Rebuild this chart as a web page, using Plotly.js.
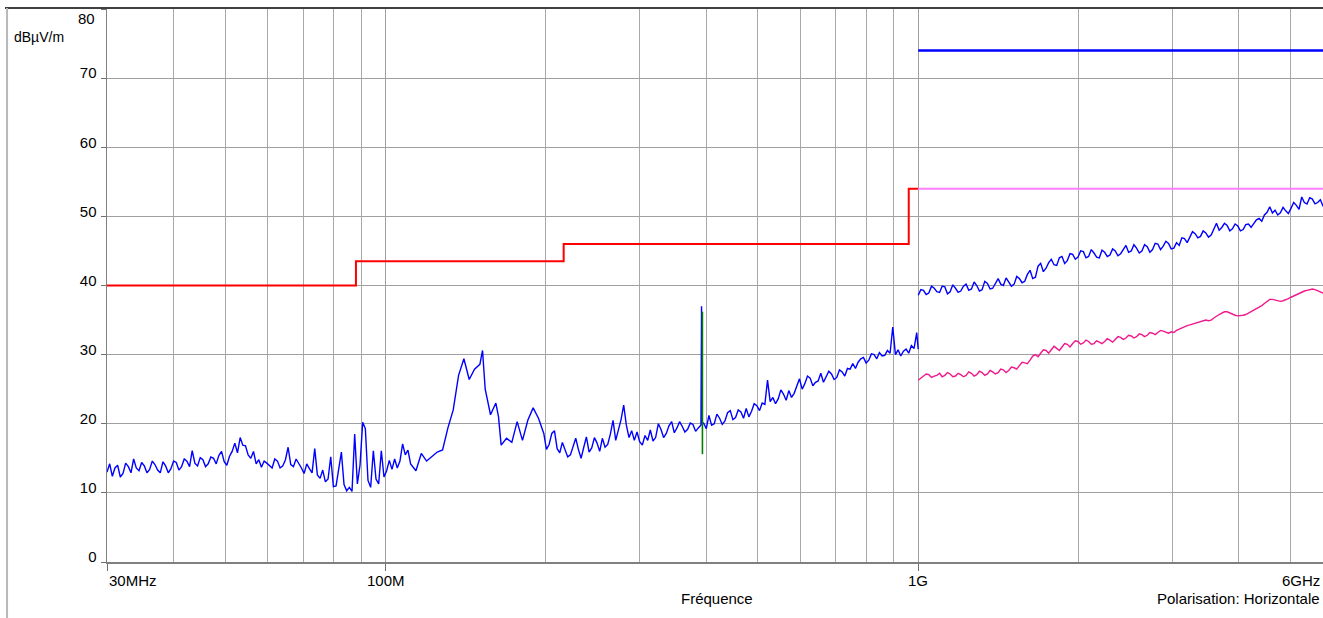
<!DOCTYPE html>
<html>
<head>
<meta charset="utf-8">
<script src="https://cdn.plot.ly/plotly-3.0.1.min.js"></script>
<style>html,body{margin:0;padding:0;background:#fff;}#chart{width:1323px;height:618px;}</style>
</head>
<body>
<div id="chart"></div>
<script>
// ---- Data (frequency in MHz, level in dBµV/m) ----
const limitQpFreq = [30, 88, 88, 216, 216, 960, 960, 1000];
const limitQpLevel = [40, 40, 43.5, 43.5, 46, 46, 54, 54];
const limitAvgFreq = [1000, 6000];
const limitAvgLevel = [54, 54];
const limitPkFreq = [1000, 6000];
const limitPkLevel = [74, 74];

// 30 MHz - 1 GHz scan (main readings)
const scanLowFreq = [30.00,30.70,31.41,32.15,32.90,33.66,34.45,35.25,36.07,36.91,37.77,38.65,39.55,40.47,41.41,42.38,43.36,44.37,45.41,46.46,47.55,48.65,49.79,50.95,52.13,53.35,54.59,55.86,57.17,58.49,59.86,61.25,62.68,64.14,65.63,67.16,68.73,70.33,71.96,73.64,75.36,77.11,78.91,80.75,82.63,84.55,85.53,86.52,87.52,88.54,89.56,90.60,91.65,92.71,93.78,94.87,95.97,97.08,98.20,99.34,100.49,101.65,102.83,104.02,105.22,106.44,107.67,108.92,110.18,111.46,114.06,116.72,119.43,122.21,125.06,127.97,130.96,134.00,137.13,140.32,143.59,146.93,150.36,152.10,153.86,157.44,161.11,162.98,164.86,168.70,172.63,176.65,180.77,184.98,189.29,193.70,198.21,202.82,207.55,212.39,217.33,222.39,227.57,232.88,238.30,243.85,249.53,255.34,261.29,267.38,273.60,279.98,286.50,293.17,300.0,307.0,314.1,321.4,328.9,336.6,344.5,352.5,360.7,369.1,377.7,386.5,391.0,392.0,393.0,395.5,404.7,414.1,423.8,433.7,443.8,454.1,464.7,475.5,486.6,497.9,509.5,515.4,521.4,527.4,533.5,546.0,558.6,571.7,585.0,598.6,612.6,626.9,641.5,656.4,671.7,687.4,703.4,719.8,736.6,753.7,771.3,789.3,807.7,826.5,845.7,865.4,885.6,895.9,906.3,927.4,949.0,971.1,982.4,993.7,1000];
const scanLowLevel = [13.0,12.4,14.0,12.8,13.8,14.9,13.2,13.9,13.4,14.1,12.9,13.9,13.5,14.4,13.8,14.6,16.1,13.9,14.8,14.2,15.0,15.4,14.5,15.3,17.2,18.0,16.8,15.0,14.2,13.7,14.3,13.6,14.6,13.9,16.6,13.8,14.3,12.8,13.5,16.4,12.1,11.6,15.2,11.0,15.9,10.3,10.8,10.2,18.5,11.3,14.0,20.2,19.3,11.8,10.8,16.1,12.0,11.3,16.1,12.3,13.2,14.7,13.4,14.9,13.6,14.6,17.1,15.5,16.2,14.2,13.2,15.7,14.6,15.2,15.9,16.2,19.4,22.0,27.0,29.4,26.4,27.9,28.6,30.6,25.0,21.3,23.0,21.0,16.9,17.9,17.3,20.3,17.6,20.5,22.3,20.8,18.6,17.0,19.0,15.8,16.2,15.5,17.9,15.0,18.1,16.5,17.2,17.9,17.0,20.5,19.2,22.7,18.0,17.6,17.4,18.3,19.1,18.0,19.2,18.6,20.3,19.4,19.6,19.2,19.9,19.4,19.8,37.0,20.0,20.1,21.2,20.0,20.8,20.4,21.9,20.9,21.7,22.2,21.8,22.6,23.0,22.8,26.3,23.2,23.8,23.6,24.3,24.8,24.4,26.5,25.8,26.6,26.0,27.3,26.8,27.2,26.7,27.5,28.0,28.7,28.9,29.6,29.2,30.0,30.3,29.9,30.2,34.0,30.0,29.8,30.8,31.3,30.9,33.2,30.8];
// 30 MHz - 1 GHz scan (in-between readings of the noise)
const scanLowFreqMid = [30.35,31.05,31.78,32.52,33.28,34.05,34.85,35.66,36.49,37.34,38.21,39.10,40.01,40.94,41.89,42.87,43.86,44.89,45.93,47.00,48.10,49.22,50.36,51.53,52.73,53.96,55.22,56.51,57.82,59.17,60.55,61.96,63.40,64.88,66.39,67.94,69.52,71.14,72.80,74.49,76.23,78.00,79.82,81.68,83.58,200.5,205.2,210.0,214.8,219.8,225.0,230.2,235.6,241.1,246.7,252.4,258.3,264.3,270.5,276.8,283.2,289.8,296.6,303.5,310.6,317.8,325.2,332.7,340.5,348.4,356.5,364.8,373.4,382.1,400.1,409.4,418.9,428.7,438.7,448.9,459.4,470.0,481.0,492.2,503.7,539.7,552.3,565.1,578.3,591.8,605.6,619.7,634.1,648.9,664.0,679.5,695.3,711.6,728.1,745.1,762.5,780.2,798.4,817.0,836.1,855.5,875.5,916.8,938.2,960.0];
const scanLowLevelMid = [14.2,13.6,12.3,14.3,12.9,13.6,14.4,12.9,14.6,13.3,14.5,12.9,14.6,13.3,14.9,13.8,14.3,15.1,13.8,15.2,14.2,16.0,14.0,16.0,15.8,16.9,15.5,16.0,14.8,14.6,13.9,14.9,13.6,14.8,14.1,14.9,13.6,14.2,12.9,12.6,13.3,12.0,10.9,13.8,11.2,16.3,18.6,16.4,17.3,15.2,16.8,16.3,16.6,15.9,18.0,16.0,16.6,18.5,17.6,20.6,19.8,19.0,18.8,16.9,17.6,17.5,20.0,18.0,19.7,18.7,20.3,18.8,20.1,18.9,19.3,19.8,21.4,19.9,21.6,20.6,22.0,20.8,21.0,22.9,21.9,22.9,24.9,23.4,23.8,25.4,25.0,26.9,25.5,26.2,26.0,27.6,26.4,27.8,26.9,27.9,28.0,29.4,28.8,30.1,29.4,29.8,30.6,30.7,30.5,30.2];

// 1 GHz - 6 GHz scan (main readings)
const scanHighFreq = [1000,1023,1047,1072,1097,1122,1148,1175,1202,1230,1259,1288,1318,1349,1380,1413,1445,1479,1514,1549,1585,1622,1660,1698,1738,1778,1820,1862,1905,1950,1995,2042,2089,2138,2188,2239,2291,2344,2399,2455,2512,2570,2630,2692,2754,2818,2884,2951,3020,3090,3162,3236,3311,3388,3467,3548,3631,3715,3802,3890,3981,4074,4169,4266,4365,4467,4571,4677,4786,4898,5012,5129,5248,5370,5495,5623,5754,5900,6000];
const peakLevel = [38.6,39.3,38.9,39.6,39.0,39.8,39.1,39.6,39.2,40.2,39.5,40.0,39.4,40.3,39.6,41.0,40.0,40.5,40.2,41.0,40.6,42.2,41.2,43.2,42.5,43.8,42.9,44.2,43.6,44.5,44.1,44.9,44.2,44.7,44.0,44.8,44.4,45.0,44.6,45.8,45.0,45.4,45.0,45.6,45.2,46.0,45.7,46.1,45.4,45.8,46.8,47.0,47.5,47.1,47.6,47.3,49.0,48.4,48.7,48.2,48.6,48.1,48.9,49.0,49.7,50.2,51.4,50.9,50.5,50.8,51.2,51.6,52.8,51.8,52.5,52.0,51.5,51.6,51.8];
const averageLevel = [26.3,26.8,27.1,26.9,27.3,27.0,27.2,26.9,27.1,27.0,27.3,27.1,27.4,27.2,27.5,27.4,27.8,27.7,28.1,28.4,28.8,29.2,30.0,30.2,30.6,30.7,30.9,31.1,31.5,31.6,31.9,31.7,31.9,31.6,31.8,31.9,32.1,32.2,32.5,32.4,32.7,32.6,32.9,32.8,33.1,33.2,33.4,33.1,33.2,33.7,34.0,34.3,34.6,34.8,35.0,35.0,35.6,36.0,36.2,35.8,35.6,35.7,36.0,36.4,36.8,37.4,38.0,37.9,37.7,37.9,38.3,38.7,39.1,39.3,39.5,39.2,38.9,39.0,39.2];
// 1 GHz - 6 GHz scan (in-between readings)
const scanHighFreqMid = [1011.6,1035.1,1059.3,1083.9,1109.2,1135.0,1161.4,1188.5,1216.2,1244.5,1273.5,1303.2,1333.5,1364.6,1396.4,1428.9,1462.2,1496.2,1531.1,1566.8,1603.2,1640.6,1678.8,1717.9,1757.9,1798.9,1840.8,1883.6,1927.5,1972.4,2018.4,2065.4,2113.5,2162.7,2213.1,2264.6,2317.4,2371.4,2426.6,2483.1,2541.0,2600.2,2660.7,2722.7,2786.1,2851.0,2917.4,2985.4,3054.9,3126.1,3198.9,3273.4,3349.7,3427.7,3507.5,3589.2,3672.8,3758.4,3845.9,3935.5,4027.2,4121.0,4217.0,4315.2,4415.7,4518.6,4623.8,4731.5,4841.7,4954.5,5069.9,5188.0,5308.8,5432.5,5559.0,5688.5];
const peakLevelMid = [39.4,38.7,39.9,39.1,39.9,38.8,40.1,39.0,39.9,39.3,40.5,39.2,40.6,39.5,40.4,40.2,41.1,39.9,41.3,40.4,41.6,41.0,42.8,42.0,43.3,43.0,44.0,43.2,44.6,43.8,45.0,44.0,45.2,44.1,45.1,44.2,45.3,44.3,45.2,44.8,45.9,44.7,45.9,44.8,46.1,45.2,46.4,45.3,46.2,46.9,46.2,47.8,46.9,47.9,47.0,48.2,48.0,49.0,47.9,48.9,47.9,48.8,48.4,49.5,49.3,50.6,50.5,50.2,51.3,50.4,52.0,51.0,52.0,52.7,51.8,52.4];
const averageLevelMid = [26.6,27.2,26.7,27.0,26.8,27.4,26.8,27.3,26.8,27.5,26.9,27.6,27.0,27.7,27.2,27.9,27.4,28.2,27.9,28.9,28.7,29.8,29.7,30.7,30.2,31.2,30.6,31.6,31.1,32.0,31.5,32.1,31.5,32.0,31.6,32.3,31.8,32.6,32.2,32.8,32.4,33.0,32.6,33.2,32.9,33.5,33.2,33.3,33.5,33.8,34.2,34.4,34.7,34.9,34.9,35.3,35.8,36.2,36.0,35.7,35.6,35.8,36.2,36.6,37.1,37.7,38.0,37.8,37.8,38.1,38.5,38.9,39.2,39.4,39.4,39.0];

const qpMarkFreq = [393.5, 393.5];
const qpMarkLevel = [15.6, 36.2];

const majorTicks = [30, 100, 1000];
const minorGrid = [40,50,60,70,80,90,200,300,400,500,600,700,800,900,2000,3000,4000,5000];
const yTicks = [0,10,20,30,40,50,60,70,80];
const yTickText = ['0','10','20','30','40','50','60','70',''];
const xLabels = [{f:30, text:'30MHz', anchor:'left'}, {f:100, text:'100M', anchor:'center'}, {f:1000, text:'1G', anchor:'center'}];
const viewMaxFreq = 5754;

// merge main + in-between readings, ordered by frequency
function merge(fa, ya, fb, yb) {
  const pts = fa.map((f, i) => [f, ya[i]]).concat(fb.map((f, i) => [f, yb[i]]));
  pts.sort((a, b) => a[0] - b[0]);
  return {x: pts.map(p => p[0]), y: pts.map(p => p[1])};
}
const low = merge(scanLowFreq, scanLowLevel, scanLowFreqMid, scanLowLevelMid);
const pk = merge(scanHighFreq, peakLevel, scanHighFreqMid, peakLevelMid);
const av = merge(scanHighFreq, averageLevel, scanHighFreqMid, averageLevelMid);

// ---- Traces ----
const FONT = 'Liberation Sans, Arial, sans-serif';
const traces = [
  {x: limitQpFreq, y: limitQpLevel, mode:'lines', line:{color:'#ff0000', width:2}, hoverinfo:'skip'},
  {x: limitAvgFreq, y: limitAvgLevel, mode:'lines', line:{color:'#ff80ff', width:2.2}, hoverinfo:'skip'},
  {x: limitPkFreq, y: limitPkLevel, mode:'lines', line:{color:'#0000ff', width:2.6}, hoverinfo:'skip'},
  {x: low.x, y: low.y, mode:'lines', line:{color:'#0000ff', width:1.4}, hoverinfo:'skip'},
  {x: pk.x, y: pk.y, mode:'lines', line:{color:'#0000ff', width:1.4}, hoverinfo:'skip'},
  {x: av.x, y: av.y, mode:'lines', line:{color:'#f0198c', width:1.4}, hoverinfo:'skip'},
  {x: qpMarkFreq, y: qpMarkLevel, mode:'lines', line:{color:'#008000', width:1.6}, hoverinfo:'skip'}
];

const annotations = xLabels.map(l => ({
  xref:'x', yref:'paper', x: Math.log10(l.f), y: -0.033, text: l.text, showarrow:false,
  xanchor: l.anchor, yanchor:'middle', font:{family:FONT, size:15, color:'#000'}
}));
annotations.push(
  {xref:'paper', yref:'paper', x:0.9995, y:-0.033, text:'6GHz', showarrow:false, xanchor:'right', yanchor:'middle', font:{family:FONT, size:15, color:'#000'}},
  {xref:'paper', yref:'paper', x:0.5016, y:-0.0657, text:'Fréquence', showarrow:false, xanchor:'center', yanchor:'middle', font:{family:FONT, size:15, color:'#000'}},
  {xref:'paper', yref:'paper', x:0.9995, y:-0.0657, text:'Polarisation: Horizontale', showarrow:false, xanchor:'right', yanchor:'middle', font:{family:FONT, size:15, color:'#000'}},
  {xref:'paper', yref:'paper', x:-0.0781, y:0.9499, text:'dBµV/m', showarrow:false, xanchor:'left', yanchor:'middle', font:{family:FONT, size:14, color:'#000'}},
  {xref:'paper', yref:'paper', x:-0.0085, y:0.9837, text:'80', showarrow:false, xanchor:'right', yanchor:'middle', font:{family:FONT, size:15, color:'#000'}}
);

const layout = {
  width:1323, height:618, autosize:false,
  margin:{l:107, r:0, t:9, b:56, pad:0},
  paper_bgcolor:'#ffffff', plot_bgcolor:'#ffffff',
  showlegend:false,
  font:{family:FONT, size:15, color:'#000'},
  xaxis:{
    type:'log', range:[Math.log10(30), Math.log10(viewMaxFreq)],
    tickmode:'array', tickvals: majorTicks, ticktext: majorTicks.map(()=>''),
    ticks:'outside', ticklen:7, tickcolor:'#707070', tickwidth:1,
    showgrid:true, gridcolor:'#a0a0a0', gridwidth:1,
    showline:true, linecolor:'#808080', linewidth:1.5,
    zeroline:false, fixedrange:true,
    minor:{tickmode:'array', tickvals: minorGrid, showgrid:true, gridcolor:'#a8a8a8', gridwidth:1, ticks:''}
  },
  yaxis:{
    range:[0,80], tickmode:'array', tickvals:yTicks, ticktext:yTickText,
    ticks:'outside', ticklen:5, tickcolor:'#707070',
    ticklabelshift:-5, ticklabelstandoff:1,
    tickfont:{family:FONT, size:15, color:'#000'},
    showgrid:true, gridcolor:'#a0a0a0', gridwidth:1,
    showline:true, linecolor:'#808080', linewidth:1.5,
    zeroline:false, fixedrange:true
  },
  annotations: annotations,
  shapes:[
    {type:'line', xref:'paper', yref:'paper', x0:-0.0839, x1:1.0, y0:1.0018, y1:1.0018, line:{color:'#000', width:1.5}},
    {type:'line', xref:'paper', yref:'paper', x0:-0.0822, x1:-0.0822, y0:-0.102, y1:1.0018, line:{color:'#b8b8b8', width:2}}
  ]
};

Plotly.newPlot('chart', traces, layout, {displayModeBar:false, staticPlot:true});
</script>
</body>
</html>
